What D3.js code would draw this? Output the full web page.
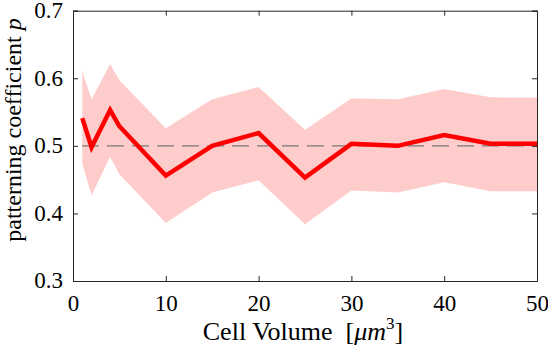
<!DOCTYPE html>
<html><head><meta charset="utf-8">
<script src="https://cdn.jsdelivr.net/npm/d3@7"></script>
</head><body style="margin:0;background:#fff">
<svg id="c" width="548" height="352" style="display:block"></svg>
<script>
const volumes = [1, 2, 4, 5, 10, 15, 20, 25, 30, 35, 40, 45, 50];
const meanP  = [0.541, 0.498, 0.553, 0.529, 0.456, 0.500, 0.519, 0.453, 0.503, 0.500, 0.516, 0.503, 0.503];
const upperP = [0.610, 0.569, 0.621, 0.597, 0.526, 0.569, 0.587, 0.524, 0.570, 0.569, 0.584, 0.572, 0.571];
const lowerP = [0.474, 0.427, 0.484, 0.458, 0.386, 0.431, 0.449, 0.384, 0.434, 0.431, 0.446, 0.433, 0.433];
const xTicks = [0, 10, 20, 30, 40, 50];
const yTicks = [0.3, 0.4, 0.5, 0.6, 0.7];
const refLevel = 0.5;

const FONT = "Liberation Serif";
const svg = d3.select("#c");
const L = 73, R = 537, T = 10.7, B = 281;
const x = d3.scaleLinear().domain([0, 50]).range([L, R]);
const y = d3.scaleLinear().domain([0.3, 0.7]).range([B, T]);

const data = volumes.map((v, i) => ({v, m: meanP[i], u: upperP[i], l: lowerP[i]}));

svg.append("path").datum(data)
  .attr("d", d3.area().x(d => x(d.v)).y0(d => y(d.l)).y1(d => y(d.u)))
  .attr("fill", "#ffcccc").attr("stroke", "none");

svg.append("line").attr("x1", x(0)).attr("x2", x(50)).attr("y1", y(refLevel)).attr("y2", y(refLevel))
  .attr("stroke", "#777").attr("stroke-width", 1.3).attr("stroke-dasharray", "17,8").attr("stroke-dashoffset", -9);

svg.append("path").datum(data)
  .attr("d", d3.line().x(d => x(d.v)).y(d => y(d.m)))
  .attr("fill", "none").attr("stroke", "#ff0000").attr("stroke-width", 4.5).attr("stroke-linejoin", "miter");

const axCol = "#262626";
const tl = 5;
const gB = svg.append("g").attr("transform", `translate(0,${B})`)
  .call(d3.axisBottom(x).tickValues(xTicks).tickSize(-tl).tickPadding(14).tickFormat(d3.format("d")));
const gT = svg.append("g").attr("transform", `translate(0,${T})`)
  .call(d3.axisTop(x).tickValues(xTicks).tickSize(-tl).tickFormat(""));
const gL = svg.append("g").attr("transform", `translate(${L},0)`)
  .call(d3.axisLeft(y).tickValues(yTicks).tickSize(-tl).tickPadding(10).tickFormat(d3.format(".1f")));
const gR = svg.append("g").attr("transform", `translate(${R},0)`)
  .call(d3.axisRight(y).tickValues(yTicks).tickSize(-tl).tickFormat(""));
[gB, gT, gL, gR].forEach(g => {
  g.attr("font-family", FONT).attr("font-size", 23);
  g.select(".domain").attr("stroke", axCol).attr("stroke-width", 1);
  g.selectAll(".tick line").attr("stroke", axCol).attr("stroke-width", 1);
  g.selectAll(".tick text").attr("font-family", FONT).attr("font-size", 23).attr("fill", "#000");
});
gB.selectAll(".tick text").attr("dy", "0.71em");
gL.selectAll(".tick text").attr("dy", "0.3em");

// x label
const xl = svg.append("text").attr("x", 303).attr("y", 340).attr("text-anchor", "middle")
  .attr("font-family", FONT).attr("font-size", 26).attr("fill", "#000");
xl.append("tspan").text("Cell Volume\u2002[");
xl.append("tspan").attr("font-style", "italic").text("μm");
xl.append("tspan").attr("font-size", 17).attr("dy", -11).text("3");
xl.append("tspan").attr("dy", 11).text("]");

// y label
const yl = svg.append("text").attr("transform", "translate(21,130) rotate(-90)").attr("text-anchor", "middle")
  .attr("font-family", FONT).attr("font-size", 24).attr("fill", "#000");
yl.append("tspan").text("patterning coefficient ");
yl.append("tspan").attr("font-style", "italic").text("p");
</script></body></html>
